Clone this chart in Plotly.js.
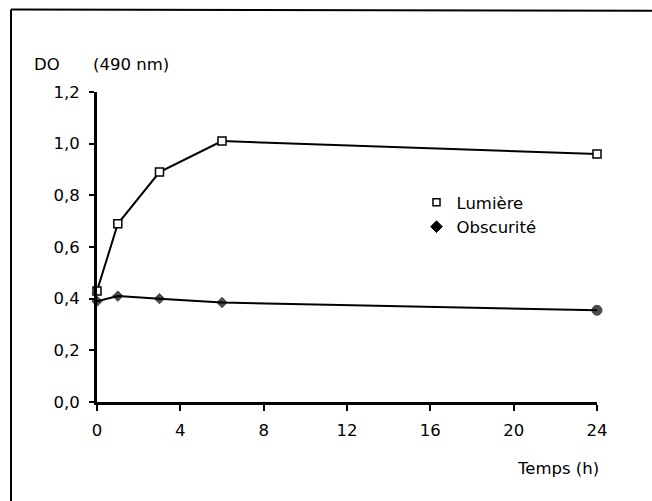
<!DOCTYPE html>
<html>
<head>
<meta charset="utf-8">
<script src="https://cdn.plot.ly/plotly-3.0.1.min.js"></script>
<style>html,body{margin:0;padding:0;background:#fff;}#chart{width:652px;height:501px;}</style>
</head>
<body>
<div id="chart"></div>
<script>
// Data
const timeHours = [0, 1, 3, 6, 24];
const lumiere = [0.43, 0.69, 0.89, 1.01, 0.96];
const obscurite = [0.39, 0.41, 0.40, 0.385, 0.355];
const seriesNames = ["Lumière", "Obscurité"];
const xTickVals = [0, 4, 8, 12, 16, 20, 24];
const yTickVals = [0, 0.2, 0.4, 0.6, 0.8, 1.0, 1.2];
const yTickText = ["0,0", "0,2", "0,4", "0,6", "0,8", "1,0", "1,2"];

const FONT = "DejaVu Sans, Verdana, sans-serif";
const FS = 16.5;

const traces = [
  {
    x: timeHours, y: lumiere, mode: "lines+markers", name: seriesNames[0], showlegend: false,
    line: {color: "#000", width: 2},
    marker: {symbol: "square", size: 8, color: "#fff", line: {width: 1.5, color: "#000"}},
    cliponaxis: false
  },
  {
    x: timeHours, y: obscurite, mode: "lines+markers", name: seriesNames[1], showlegend: false,
    line: {color: "#000", width: 2},
    marker: {symbol: ["diamond", "diamond", "diamond", "diamond", "circle"], size: [8, 8, 8, 8, 10], color: "#000",
             line: {width: 1, color: "#000"}},
    cliponaxis: false
  },
  {
    x: [null], y: [null], mode: "markers", name: seriesNames[0], showlegend: true,
    marker: {symbol: "square", size: 7, color: "#fff", line: {width: 1.5, color: "#000"}}
  },
  {
    x: [null], y: [null], mode: "markers", name: seriesNames[1], showlegend: true,
    marker: {symbol: "diamond", size: 9, color: "#000", line: {width: 1, color: "#000"}}
  }
];

const layout = {
  width: 652, height: 501,
  margin: {l: 97, r: 55, t: 92, b: 99, pad: 0},
  paper_bgcolor: "#fff", plot_bgcolor: "#fff",
  font: {family: FONT, size: FS, color: "#000"},
  showlegend: true,
  legend: {
    x: 0.639, y: 0.70, xanchor: "left", yanchor: "top",
    bgcolor: "rgba(0,0,0,0)", borderwidth: 0,
    font: {family: FONT, size: FS, color: "#000"},
    itemwidth: 30, tracegroupgap: 0, traceorder: "normal"
  },
  xaxis: {
    range: [0, 24], tickvals: xTickVals, ticktext: xTickVals.map(String),
    showgrid: false, zeroline: false, showline: true, linecolor: "#000", linewidth: 2.5,
    ticks: "outside", ticklen: 6, tickwidth: 1.8, tickcolor: "#000", ticklabelstandoff: 6,
    tickfont: {family: FONT, size: FS, color: "#000"}, fixedrange: true
  },
  yaxis: {
    range: [0, 1.2], tickvals: yTickVals, ticktext: yTickText,
    showgrid: false, zeroline: false, showline: true, linecolor: "#000", linewidth: 3,
    ticks: "outside", ticklen: 5, tickwidth: 1.8, tickcolor: "#000", ticklabelstandoff: 6,
    tickfont: {family: FONT, size: FS, color: "#000"}, fixedrange: true
  },
  annotations: [
    {text: "DO", xref: "paper", yref: "paper", x: -0.13, y: 1.09, xanchor: "left", yanchor: "middle",
     showarrow: false, font: {family: FONT, size: FS, color: "#000"}},
    {text: "(490 nm)", xref: "paper", yref: "paper", x: -0.012, y: 1.09, xanchor: "left", yanchor: "middle",
     showarrow: false, font: {family: FONT, size: FS, color: "#000"}},
    {text: "Temps (h)", xref: "paper", yref: "paper", x: 1.008, y: -0.213, xanchor: "right", yanchor: "middle",
     showarrow: false, font: {family: FONT, size: FS, color: "#000"}}
  ],
  shapes: [
    {type: "line", xref: "paper", yref: "paper", x0: -0.172, x1: 1.2, y0: 1.266, y1: 1.262, line: {color: "#000", width: 2}},
    {type: "line", xref: "paper", yref: "paper", x0: -0.172, x1: -0.172, y0: 1.266, y1: -0.33, line: {color: "#000", width: 2}}
  ]
};

Plotly.newPlot("chart", traces, layout, {displayModeBar: false, staticPlot: true});
</script>
</body>
</html>
